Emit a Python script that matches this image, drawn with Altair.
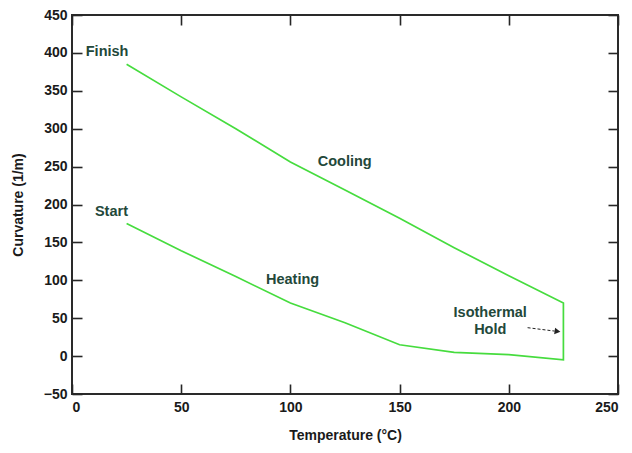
import altair as alt
import pandas as pd

# Data
temp_heat = [25, 50, 75, 100, 125, 150, 175, 200, 225]
curv_heat = [175, 139, 105, 70, 44, 15, 5, 2, -5]
temp_cool = [225, 200, 175, 150, 125, 100, 75, 50, 25]
curv_cool = [70, 106, 143, 182, 219, 256, 300, 342, 385]

x_ticks = [0, 50, 100, 150, 200, 250]
y_ticks = [-50, 0, 50, 100, 150, 200, 250, 300, 350, 400, 450]

label_text = ["Finish", "Start", "Cooling", "Heating", "Isothermal", "Hold"]
label_x = [6.3, 10.5, 112.5, 101, 191.5, 191.5]
label_y = [401, 190, 256, 100, 56.5, 34.5]
label_align = ["left", "left", "left", "center", "center", "center"]

arrow_x = [208.6, 221.0]
arrow_y = [37.5, 33.0]
arrow_head_x = [222.3]
arrow_head_y = [32.6]

temps = temp_heat + temp_cool
curvs = curv_heat + curv_cool
path = pd.DataFrame({"T": temps, "C": curvs, "i": list(range(len(temps)))})
labels = pd.DataFrame({"T": label_x, "C": label_y, "t": label_text, "a": label_align})
arrow = pd.DataFrame({"T": arrow_x, "C": arrow_y, "i": [0, 1]})
head = pd.DataFrame({"T": arrow_head_x, "C": arrow_head_y})

W, H = 546, 379
xs = alt.Scale(domain=[0, 250], nice=False, zero=False)
ys = alt.Scale(domain=[-50, 450], nice=False, zero=False)
FONT = "Liberation Sans"
TICK = "#262626"
TXT = "#23483a"
LBL = "#1a1a1a"

main = alt.Chart(path).mark_line(color="#46dc3e", strokeWidth=1.7).encode(
    x=alt.X("T:Q", scale=xs, axis=alt.Axis(
        values=x_ticks, ticks=False, domain=False, grid=False,
        labelFont=FONT, labelFontSize=14, labelFontWeight="bold", labelColor=LBL,
        labelPadding=6, title="Temperature (°C)", titleFont=FONT, titleFontSize=14,
        titleFontWeight="bold", titleColor=LBL, titlePadding=14)),
    y=alt.Y("C:Q", scale=ys, axis=alt.Axis(
        values=y_ticks, ticks=False, domain=False, grid=False,
        labelFont=FONT, labelFontSize=14, labelFontWeight="bold", labelColor=LBL,
        labelPadding=5, title="Curvature (1/m)", titleFont=FONT, titleFontSize=14,
        titleFontWeight="bold", titleColor=LBL, titlePadding=18)),
    order="i:Q",
)

def tick_axis(orient, offset, vals):
    return alt.Axis(orient=orient, offset=offset, values=vals, labels=False, domain=False,
                    grid=False, ticks=True, tickSize=10, tickWidth=1.6, tickColor=TICK, title=None)

ticks_a = alt.Chart(path).mark_line(strokeOpacity=0).encode(
    x=alt.X("T:Q", scale=xs, axis=tick_axis("top", -H, x_ticks)),
    y=alt.Y("C:Q", scale=ys, axis=tick_axis("right", -W, y_ticks)),
    order="i:Q",
)
ticks_b = alt.Chart(path).mark_line(strokeOpacity=0).encode(
    x=alt.X("T:Q", scale=xs, axis=tick_axis("bottom", -H, x_ticks)),
    y=alt.Y("C:Q", scale=ys, axis=tick_axis("left", -W, y_ticks)),
    order="i:Q",
)

text_left = alt.Chart(labels[labels.a == "left"]).mark_text(
    align="left", baseline="middle", font=FONT, fontSize=14.5, fontWeight="bold", color=TXT
).encode(x=alt.X("T:Q", scale=xs, axis=None), y=alt.Y("C:Q", scale=ys, axis=None), text="t:N")
text_center = alt.Chart(labels[labels.a == "center"]).mark_text(
    align="center", baseline="middle", font=FONT, fontSize=14.5, fontWeight="bold", color=TXT
).encode(x=alt.X("T:Q", scale=xs, axis=None), y=alt.Y("C:Q", scale=ys, axis=None), text="t:N")

arrow_line = alt.Chart(arrow).mark_line(color="#222222", strokeWidth=1, strokeDash=[3, 2]).encode(
    x=alt.X("T:Q", scale=xs, axis=None), y=alt.Y("C:Q", scale=ys, axis=None), order="i:Q")
arrow_head = alt.Chart(head).mark_point(shape="triangle-right", filled=True, size=45, angle=8,
                                        color="#222222", opacity=1).encode(
    x=alt.X("T:Q", scale=xs, axis=None), y=alt.Y("C:Q", scale=ys, axis=None))

chart = alt.layer(main, ticks_a, ticks_b, text_left, text_center, arrow_line, arrow_head).resolve_axis(
    x="independent", y="independent"
).properties(
    width=W, height=H,
    padding={"left": 64, "top": 7, "right": 6, "bottom": 51},
    autosize=alt.AutoSizeParams(type="none"),
    background="white",
).configure_view(stroke="#2a2a2a", strokeWidth=2)

chart.save("out.html", embed_options={"renderer": "svg", "actions": False})
